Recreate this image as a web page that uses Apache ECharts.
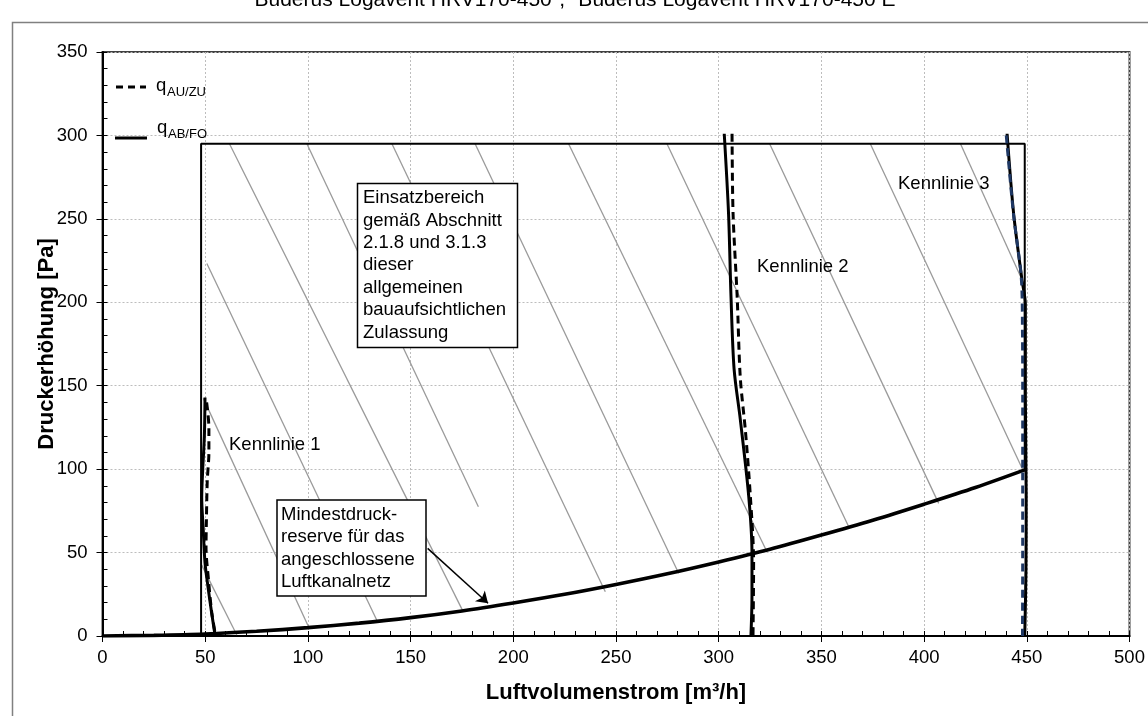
<!DOCTYPE html>
<html>
<head>
<meta charset="utf-8">
<script src="https://cdn.jsdelivr.net/npm/echarts@6/dist/echarts.min.js"></script>
<style>
  html, body { margin: 0; padding: 0; background: #fff; }
  #container { width: 1148px; height: 716px; }
</style>
</head>
<body>
<div id="container"></div>
<script>
// Einsatzbereich (Rahmen) und Mindestdruckreserve
var bereichRahmen = [[48, 0], [48, 295], [449, 295], [449, 100]];
var mindestdruck = [[0, 0], [25, 0.4], [50, 1.2], [75, 2.8], [100, 5], [125, 7.7], [150, 11], [175, 15],
    [200, 19.8], [225, 25], [250, 30.9], [275, 37.3], [300, 44.4], [325, 52], [350, 60.5],
    [375, 69.4], [400, 79], [425, 89], [450, 100]];

// Kennlinien: q_AB/FO (durchgezogen) und q_AU/ZU (gestrichelt)
var k1AbFo = [[49.9, 143], [49.6, 120], [48.8, 100], [48.3, 83], [49, 65], [49.9, 44], [51.3, 30], [53, 15], [54.8, 0.5]];
var k1AuZu = [[50.7, 140], [51.8, 125], [51.8, 110], [51, 93], [50.6, 70], [50.4, 53], [51.5, 35], [53.2, 14], [55, 0.5]];
var k2AbFo = [[302.7, 301], [304.8, 253], [306, 203], [307.5, 160], [310.5, 130], [314.6, 84], [316.2, 50], [316.2, 24], [315.7, 0]];
var k2AuZu = [[306.5, 301], [307, 253], [309, 203], [310.5, 155], [313, 123], [315.4, 84], [317, 44], [316.7, 0]];
var k3AbFo = [[440.4, 301], [443.6, 253], [447.7, 213], [449.3, 199], [449.3, 143], [449.7, 84], [449.6, 40], [449, 0]];
var k3AuZu = [[440, 300], [443.5, 253], [447.4, 213], [447.9, 180], [448, 140], [448, 100], [448, 50], [447.9, 0]];

// Schraffur: Anfangs- und Endpunkte
var hatchFrom = [[61.8, 295], [99.5, 295], [140.9, 295], [181.4, 295], [226.9, 295], [274.8, 295],
    [324.8, 295], [373.8, 295], [417.7, 295], [50.8, 223.3], [49.1, 142.4], [48.3, 42.5]];
var hatchTo = [[175.6, 14.6], [183, 77.5], [244.8, 26.5], [280.5, 37.6], [323.5, 50.5], [363.3, 65.5],
    [407.1, 79.5], [448.5, 98.4], [448.5, 211.3], [133.5, 9.6], [100.3, 5.6], [65.4, 0.6]];

// Pfeil zur Mindestdruckreserve
var arrowFrom = [158.3, 52.5];
var arrowTo = [187.7, 19.6];

var FONT = 'Liberation Sans, Arial, sans-serif';

var myChart = echarts.init(document.getElementById('container'));

var hatchData = [];
for (var i = 0; i < hatchFrom.length; i++) {
    hatchData.push({ coords: [hatchFrom[i], hatchTo[i]] });
}

function kennlinie(data, dashed, color) {
    return {
        type: 'line',
        data: data,
        smooth: 0.3,
        symbol: 'none',
        silent: true,
        z: 5,
        lineStyle: {
            color: color || '#000',
            width: 3,
            type: dashed ? [8, 5] : 'solid'
        }
    };
}

var option = {
    animation: false,
    backgroundColor: '#fff',
    textStyle: { fontFamily: FONT },
    grid: {
        left: 102.5,
        right: 18.5,
        top: 52,
        bottom: 80,
        show: true,
        borderColor: '#404040',
        borderWidth: 2
    },
    xAxis: [{
        type: 'value',
        min: 0,
        max: 500,
        interval: 50,
        name: 'Luftvolumenstrom [m³/h]',
        nameLocation: 'middle',
        nameGap: 46,
        nameMoveOverlap: false,
        nameTextStyle: { fontSize: 22, fontWeight: 'bold', color: '#000', fontFamily: FONT },
        axisLine: { lineStyle: { color: '#000', width: 2 } },
        axisTick: { length: 6, lineStyle: { color: '#000' } },
        axisLabel: { fontSize: 18.5, color: '#000', margin: 12, fontFamily: FONT },
        splitLine: { lineStyle: { color: '#bdbdbd', type: [2, 2] } }
    }, {
        type: 'value',
        min: 0,
        max: 500,
        interval: 10,
        position: 'bottom',
        axisLine: { show: false },
        axisTick: { inside: true, length: 5, lineStyle: { color: '#000' } },
        axisLabel: { show: false },
        splitLine: { show: false }
    }],
    yAxis: [{
        type: 'value',
        min: 0,
        max: 350,
        interval: 50,
        name: 'Druckerhöhung [Pa]',
        nameLocation: 'middle',
        nameGap: 45,
        nameMoveOverlap: false,
        nameTextStyle: { fontSize: 22, fontWeight: 'bold', color: '#000', fontFamily: FONT },
        axisLine: { show: true, lineStyle: { color: '#000', width: 2 } },
        axisTick: { show: true, length: 6, lineStyle: { color: '#000' } },
        axisLabel: { fontSize: 18.5, color: '#000', margin: 15, fontFamily: FONT },
        splitLine: { lineStyle: { color: '#bdbdbd', type: [2, 2] } }
    }, {
        type: 'value',
        min: 0,
        max: 350,
        interval: 10,
        position: 'left',
        axisLine: { show: false },
        axisTick: { show: true, inside: true, length: 5, lineStyle: { color: '#000' } },
        axisLabel: { show: false },
        splitLine: { show: false }
    }],
    series: [
        {
            type: 'lines',
            coordinateSystem: 'cartesian2d',
            silent: true,
            z: 2,
            lineStyle: { color: '#9a9a9a', width: 1.3, opacity: 1 },
            data: hatchData
        },
        {
            type: 'line',
            data: bereichRahmen,
            symbol: 'none',
            silent: true,
            z: 3,
            lineStyle: { color: '#000', width: 2 }
        },
        {
            type: 'line',
            data: mindestdruck,
            smooth: 0.3,
            symbol: 'none',
            silent: true,
            z: 4,
            lineStyle: { color: '#000', width: 3.6 }
        },
        kennlinie(k1AbFo, false),
        kennlinie(k1AuZu, true),
        kennlinie(k2AbFo, false),
        kennlinie(k2AuZu, true),
        kennlinie(k3AbFo, false),
        kennlinie(k3AuZu, true, '#1f3864'),
        {
            type: 'lines',
            coordinateSystem: 'cartesian2d',
            silent: true,
            z: 10,
            symbol: ['none', 'arrow'],
            symbolSize: 11,
            lineStyle: { color: '#000', width: 1.5, opacity: 1 },
            data: [{ coords: [arrowFrom, arrowTo] }]
        }
    ],
    graphic: [
        // äußerer Rahmen
        { type: 'rect', left: 10, top: 20, z: -10, silent: true,
          shape: { x: 0, y: 0, width: 1400, height: 1000 },
          style: { fill: 'none', stroke: '#808080', lineWidth: 1.5 } },
        // Titel
        { type: 'text', x: 575, y: 11, silent: true,
          style: { text: 'Buderus Logavent HRV170-450", "Buderus Logavent HRV170-450 E',
                   font: '21px ' + FONT, fill: '#000', align: 'center', verticalAlign: 'bottom' } },
        // Legende
        { type: 'line', silent: true, z: 20,
          shape: { x1: 116, y1: 87, x2: 146, y2: 87 },
          style: { stroke: '#000', lineWidth: 3, lineDash: [7, 5] } },
        { type: 'text', x: 156, y: 86, silent: true, z: 20,
          style: { text: 'q', font: '18.5px ' + FONT, fill: '#000', verticalAlign: 'middle' } },
        { type: 'text', x: 167, y: 92, silent: true, z: 20,
          style: { text: 'AU/ZU', font: '13px ' + FONT, fill: '#000', verticalAlign: 'middle' } },
        { type: 'line', silent: true, z: 20,
          shape: { x1: 115, y1: 138, x2: 147, y2: 138 },
          style: { stroke: '#000', lineWidth: 3 } },
        { type: 'text', x: 157, y: 128, silent: true, z: 20,
          style: { text: 'q', font: '18.5px ' + FONT, fill: '#000', verticalAlign: 'middle' } },
        { type: 'text', x: 168, y: 134, silent: true, z: 20,
          style: { text: 'AB/FO', font: '13px ' + FONT, fill: '#000', verticalAlign: 'middle' } },
        // Einsatzbereich-Kasten
        { type: 'rect', silent: true, z: 20,
          shape: { x: 357.5, y: 183.5, width: 160, height: 164 },
          style: { fill: '#fff', stroke: '#000', lineWidth: 1.5 } },
        { type: 'text', x: 363, y: 187, silent: true, z: 21,
          style: { text: 'Einsatzbereich\ngemäß Abschnitt\n2.1.8 und 3.1.3\ndieser\nallgemeinen\nbauaufsichtlichen\nZulassung',
                   font: '18.5px ' + FONT, fill: '#000', lineHeight: 22.4, verticalAlign: 'top' } },
        // Mindestdruckreserve-Kasten
        { type: 'rect', silent: true, z: 20,
          shape: { x: 277, y: 500, width: 149, height: 96 },
          style: { fill: '#fff', stroke: '#000', lineWidth: 1.5 } },
        { type: 'text', x: 281, y: 504, silent: true, z: 21,
          style: { text: 'Mindestdruck-\nreserve für das\nangeschlossene\nLuftkanalnetz',
                   font: '18.5px ' + FONT, fill: '#000', lineHeight: 22.2, verticalAlign: 'top' } },
        // Kennlinien-Beschriftungen
        { type: 'text', x: 229, y: 445, silent: true, z: 20,
          style: { text: 'Kennlinie 1', font: '18.5px ' + FONT, fill: '#000', verticalAlign: 'middle' } },
        { type: 'text', x: 757, y: 267, silent: true, z: 20,
          style: { text: 'Kennlinie 2', font: '18.5px ' + FONT, fill: '#000', verticalAlign: 'middle' } },
        { type: 'text', x: 898, y: 184, silent: true, z: 20,
          style: { text: 'Kennlinie 3', font: '18.5px ' + FONT, fill: '#000', verticalAlign: 'middle' } }
    ]
};

myChart.setOption(option);
</script>
</body>
</html>
